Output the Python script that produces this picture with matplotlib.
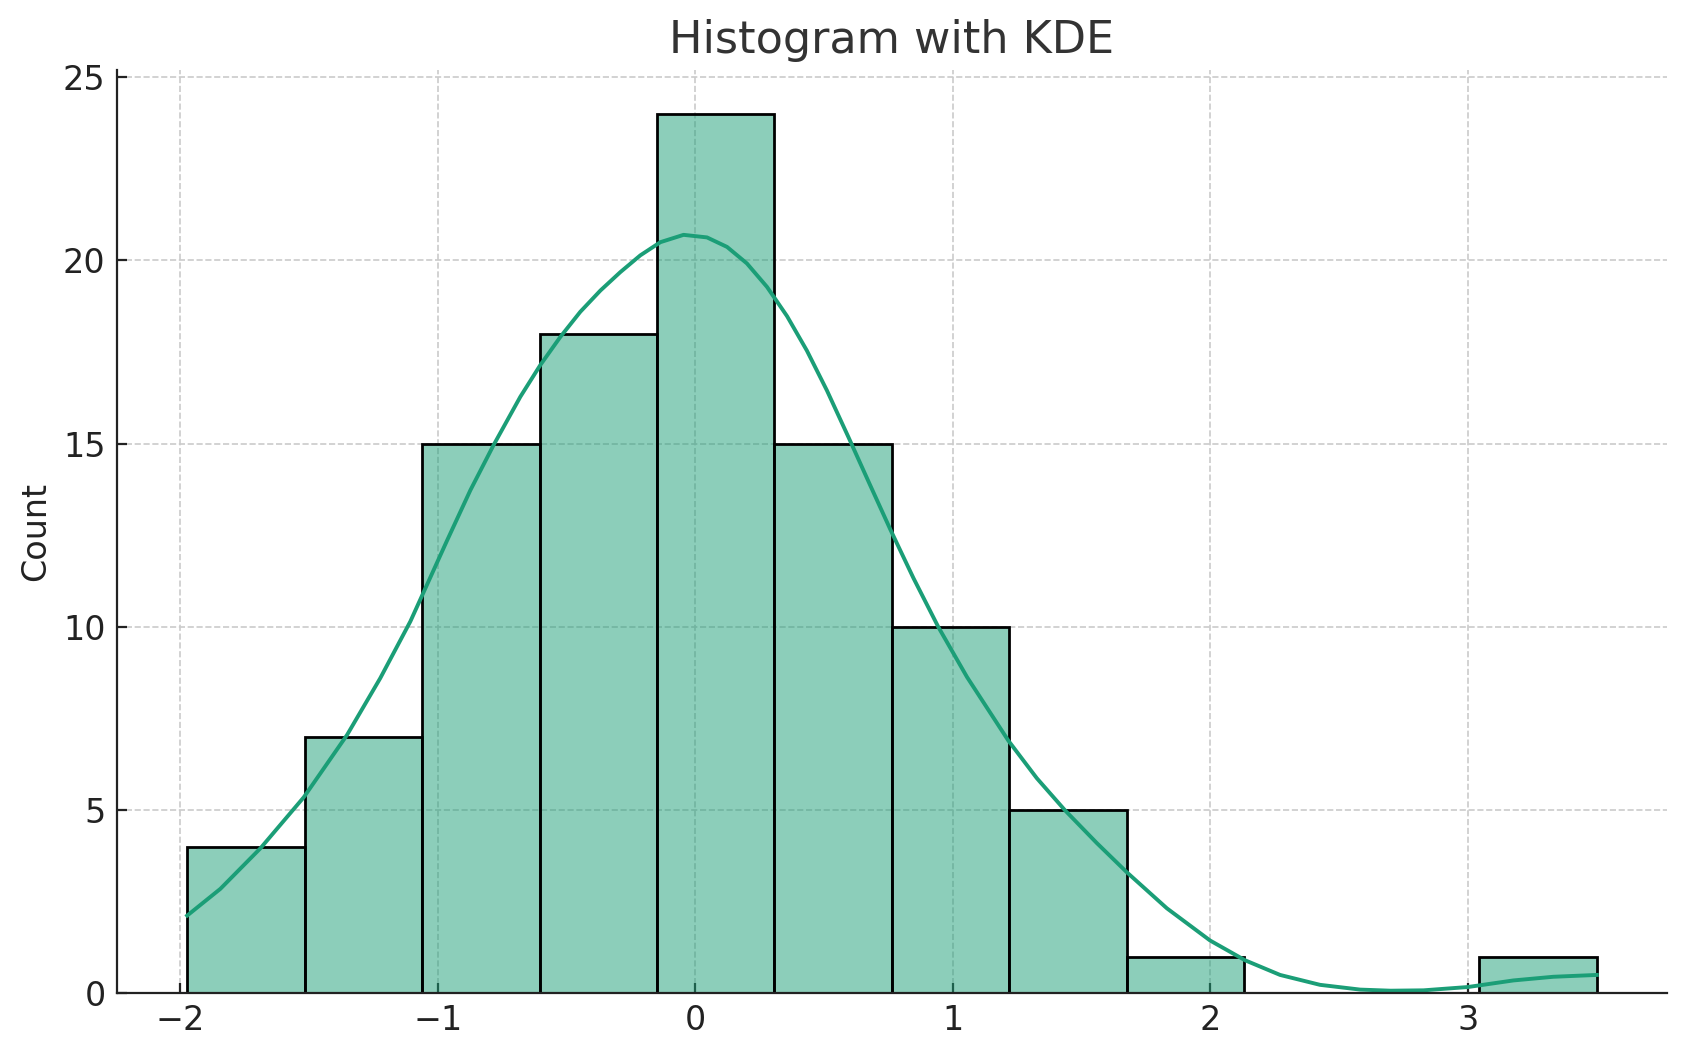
import matplotlib.pyplot as plt

# histogram: 12 equal bins between the min and max of the sample
bin_edges = [-1.974, -1.518, -1.062, -0.605, -0.149, 0.307, 0.763,
             1.219, 1.675, 2.132, 2.588, 3.044, 3.501]
counts = [4, 7, 15, 18, 24, 15, 10, 5, 1, 0, 0, 1]

# KDE curve (scaled to counts)
kde_x = [-1.974, -1.845, -1.689, -1.521, -1.353, -1.224, -1.107,
         -0.965, -0.874, -0.784, -0.680, -0.602, -0.525, -0.447, -0.369,
         -0.292, -0.214, -0.136, -0.046, 0.045, 0.123, 0.200, 0.278,
         0.356, 0.433, 0.511, 0.595, 0.676, 0.757, 0.847, 0.944, 1.055,
         1.216, 1.326, 1.436, 1.559, 1.676, 1.831, 1.999, 2.135, 2.271,
         2.426, 2.582, 2.700, 2.828, 3.000, 3.177, 3.332, 3.501]
kde_y = [2.12, 2.85, 3.96, 5.35, 7.05, 8.60, 10.15,
         12.35, 13.73, 14.96, 16.28, 17.15, 17.91, 18.60, 19.18,
         19.68, 20.14, 20.50, 20.70, 20.63, 20.37, 19.92, 19.28,
         18.48, 17.54, 16.45, 15.17, 13.91, 12.66, 11.33, 9.99, 8.63,
         6.89, 5.87, 4.99, 4.10, 3.30, 2.32, 1.44, 0.90, 0.50,
         0.23, 0.10, 0.07, 0.08, 0.17, 0.35, 0.45, 0.50]

color = '#1b9e77'

fig = plt.figure(figsize=(8.43, 5.285), dpi=200)
ax = fig.add_axes([0.0692, 0.0603, 0.9197, 0.8735])

widths = [bin_edges[i + 1] - bin_edges[i] for i in range(len(counts))]
ax.bar(bin_edges[:-1], counts, width=widths, align='edge',
       facecolor=(0.106, 0.620, 0.467, 0.5), edgecolor='black', linewidth=1.0)
ax.plot(kde_x, kde_y, color=color, lw=1.4, solid_joinstyle='round')

ax.set_title("Histogram with KDE", fontsize=16, color='#333333', pad=6)
ax.set_ylabel("Count", fontsize=12, color='#222222')
ax.set_yticks([0, 5, 10, 15, 20, 25])
ax.set_xticks([-2, -1, 0, 1, 2, 3])
ax.set_xticklabels(['\u22122', '\u22121', '0', '1', '2', '3'])

ax.grid(True, linestyle='--', color='#cbcbcb', linewidth=0.6)
ax.set_axisbelow(True)
ax.spines['top'].set_visible(False)
ax.spines['right'].set_visible(False)
for s in ('left', 'bottom'):
    ax.spines[s].set_linewidth(0.8)
    ax.spines[s].set_color('#222222')
ax.tick_params(direction='in', length=3.5, width=0.8, labelsize=12,
               colors='#222222', pad=4)

fig.savefig('out.png', dpi=200)
